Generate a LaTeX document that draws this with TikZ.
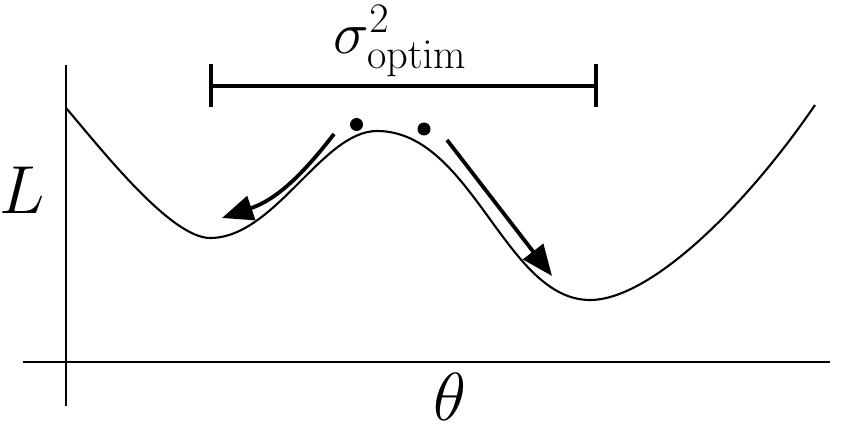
\RequirePackage{fix-cm}
\documentclass[tikz,border=0pt]{standalone}
\usetikzlibrary{arrows.meta}
\tikzset{
  axis/.style={line width=2pt},
  curve/.style={line width=2.1pt},
  barline/.style={line width=3.1pt},
  moveArrow/.style={line width=3.8pt,-{Triangle[length=31pt,width=25pt]}},
  ball/.style={circle,fill=black,inner sep=0pt,minimum size=13pt},
  labeltext/.style={inner sep=0pt,font=\fontsize{60}{60}\selectfont},
  axistext/.style={inner sep=0pt,font=\fontsize{68}{68}\selectfont},
}
\begin{document}
\begin{tikzpicture}[x=1pt,y=-1pt]
\useasboundingbox (0,0) rectangle (842,430);
% axes
\coordinate (ytop) at (66,65);
\coordinate (ybot) at (66,406);
\coordinate (xl) at (23,362);
\coordinate (xr) at (830,362);
\draw[axis] (ytop) -- (ybot);
\draw[axis] (xl) -- (xr);
% loss curve
\coordinate (c0) at (66,108);
\coordinate (m1) at (210,238);
\coordinate (mx) at (377,131);
\coordinate (m2) at (590,300);
\coordinate (c4) at (815,105);
\draw[curve] (c0) .. controls (98,145) and (170,238) .. (m1)
  .. controls (275,238) and (322,131) .. (mx)
  .. controls (472,131) and (505,300) .. (m2)
  .. controls (650,300) and (745,207.5) .. (c4);
% bar
\coordinate (bl) at (211,86);
\coordinate (br) at (596,86);
\draw[barline] (bl) -- (br);
\draw[barline] ([yshift=-21.5pt]bl) -- ([yshift=21.5pt]bl);
\draw[barline] ([yshift=-21.5pt]br) -- ([yshift=21.5pt]br);
\node[labeltext] (sig) at (400,41) {$\sigma^2_{\mathrm{optim}}$};
% balls
\node[ball] (b1) at (356.5,124.5) {};
\node[ball] (b2) at (424,129) {};
% arrows
\coordinate (a1s) at (334,134);
\coordinate (a1e) at (222,218);
\draw[moveArrow] (a1s) .. controls (300,178) and (275,200) .. (a1e);
\coordinate (a2s) at (447,140);
\coordinate (a2e) at (552,276);
\draw[moveArrow] (a2s) -- (a2e);
% labels
\node[axistext] (L) at (22,190) {$L$};
\node[axistext] (th) at (450,397) {$\theta$};
\end{tikzpicture}
\end{document}
